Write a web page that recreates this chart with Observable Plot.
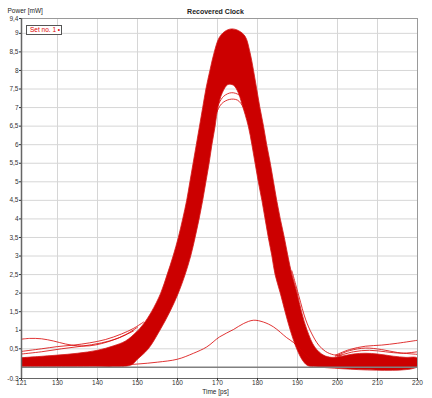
<!DOCTYPE html>
<html><head><meta charset="utf-8">
<script src="https://cdn.jsdelivr.net/npm/d3@7"></script>
<script src="https://cdn.jsdelivr.net/npm/@observablehq/plot@0.6"></script>
<style>
body{margin:0;background:#fff;}
#wrap{position:relative;width:432px;height:398px;font-family:"Liberation Sans",Arial,sans-serif;}
#legend{position:absolute;left:26px;top:25px;width:36px;height:10px;border:1px solid #555;background:#fff;color:#e00000;font-size:6.5px;line-height:8px;padding-left:3px;box-sizing:border-box;white-space:nowrap;font-family:"Liberation Sans",Arial,sans-serif;}
</style></head><body><div id="wrap"><div id="legend">Set no. 1 &#8226;</div></div>
<script>
// ---- ticks / labels ----
const xTicks = [121,130,140,150,160,170,180,190,200,210,220];
const xGrid = [130,140,150,160,170,180,190,200,210];
const yTicks = [-0.3,0.5,1,1.5,2,2.5,3,3.5,4,4.5,5,5.5,6,6.5,7,7.5,8,8.5,9,9.4];
const yTickLabels = ["-0.3","0,5","1","1,5","2","2,5","3","3,5","4","4,5","5","5,5","6","6,5","7","7,5","8","8,5","9","9,4"];
const yGrid = [0.5,1,1.5,2,2.5,3,3.5,4,4.5,5,5.5,6,6.5,7,7.5,8,8.5,9];
const titleText = ["Recovered Clock"];
const yLabel = ["Power [mW]"];
const xLabel = ["Time [ps]"];
const zeroLine = [0];

// ---- dense band of traces: outer (upper) envelope ----
const upperT = [121,125,130,135,140,144,147,149.7,151.5,153.5,155.8,157.4,158.9,160.2,161.3,162.3,163.1,163.9,164.7,165.5,166.3,167.1,168.1,169.2,170.4,171.8,173.5,175.3,176.9,178.1,179,179.8,180.6,181.5,182.3,183.2,184,184.8,185.7,186.7,187.6,188.6,189.9,191,192.4,194.3,196.5,198.5,201,204,207,210,214,217,220];
const upperV = [0.26,0.29,0.33,0.38,0.46,0.58,0.71,0.95,1.17,1.5,2.0,2.5,3.0,3.5,4.0,4.5,5.0,5.5,6.0,6.5,7.0,7.5,8.0,8.5,8.88,9.05,9.12,9.07,8.92,8.5,8.0,7.5,7.0,6.5,6.0,5.5,5.0,4.5,4.0,3.5,3.0,2.5,2.0,1.5,1.0,0.55,0.33,0.27,0.3,0.36,0.38,0.36,0.3,0.27,0.25];
// ---- dense band: inner (lower) envelope ----
const lowerT = [121,135,146,148.5,150,152.7,155.6,158.1,160.2,161.9,163.3,164.4,165.4,166.3,167.1,167.9,168.6,169.4,170.1,171.2,172.6,174,175.2,176.1,177.7,178.6,179.4,180.2,181.1,181.9,182.7,183.6,184.4,185.7,186.9,188.2,189.8,191.2,192.5,194,220];
const lowerV = [0.02,0.02,0.02,0.07,0.22,0.5,1.0,1.5,2.0,2.5,3.0,3.5,4.0,4.5,5.0,5.5,6.0,6.5,7.0,7.4,7.62,7.6,7.4,7.1,6.5,6.0,5.5,5.0,4.5,4.0,3.5,3.0,2.5,2.0,1.5,1.0,0.5,0.2,0.05,0.02,0.02];

// ---- individual visible traces ----
const lowPeak1 = [[169.5,6.8],[171,7.1],[173,7.22],[175,7.2],[176.5,7.0],[177.6,6.7]];
const lowPeak2 = [[169.8,7.0],[171.5,7.3],[173.5,7.4],[175.5,7.33],[176.8,7.1]];
const smallPulse = [[121,0.04],[135,0.05],[145,0.06],[150,0.09],[155,0.14],[160,0.22],[164,0.38],[167.3,0.55],[170.5,0.82],[174,1.02],[176.5,1.18],[179,1.27],[181.5,1.22],[184,1.09],[187.3,0.8],[189,0.67],[191,0.45],[193,0.25]];
const outlierLeft = [[121,0.76],[123,0.78],[126,0.77],[129,0.71],[132,0.63],[135,0.58],[138,0.58],[141,0.64],[144,0.74],[147,0.88],[150,1.08]];
const fringeLeft1 = [[121,0.43],[126,0.5],[130,0.56],[134,0.6],[138,0.66],[142,0.75],[146,0.9],[149,1.05],[151.5,1.22]];
const fringeLeft2 = [[121,0.36],[126,0.42],[131,0.5],[136,0.57],[141,0.66],[145,0.78],[149,0.98]];
const fringeRight = [[188.6,2.6],[190.4,1.9],[192,1.3],[193.6,0.9],[195.3,0.6],[197,0.43],[199,0.34],[201,0.33]];
const bumpRight1 = [[199.5,0.33],[203,0.48],[207,0.57],[211,0.6],[215,0.65],[220,0.73]];
const bumpRight2 = [[199.5,0.3],[203,0.45],[207,0.52],[211,0.48],[215,0.4],[220,0.35]];
const bumpRight3 = [[200,0.3],[204,0.42],[208,0.46],[212,0.42],[216,0.38],[220,0.42]];

const band = upperT.map((t,i)=>[t,upperV[i]]).concat(lowerT.map((t,i)=>[t,lowerV[i]]).reverse());
const traces = [lowPeak1,lowPeak2,smallPulse,outlierLeft,fringeLeft1,fringeLeft2,fringeRight,bumpRight1,bumpRight2,bumpRight3];

const yLab = new Map(yTicks.map((v,i)=>[v,yTickLabels[i]]));
const red = "#cc0000";
const px = {x: d=>d[0], y: d=>d[1]};

const chart = Plot.plot({
  width: 432, height: 398,
  marginLeft: 21, marginRight: 15, marginTop: 18, marginBottom: 20,
  style: {fontFamily: '"Liberation Sans", Arial, sans-serif', fontSize: "6.5px", color: "#333", background: "#fff"},
  x: {domain: [121, 220]},
  y: {domain: [-0.3, 9.4]},
  marks: [
    Plot.gridY(yGrid, {stroke: "#d6d6d6", strokeOpacity: 1}),
    Plot.gridX(xGrid, {stroke: "#d6d6d6", strokeOpacity: 1}),
    Plot.line(band, {...px, fill: red, stroke: "#d41a1a", strokeWidth: 0.8, curve: "catmull-rom", clip: true}),
    ...traces.map(tr => Plot.line(tr, {...px, stroke: "#d80000", strokeWidth: 0.8, curve: "catmull-rom", clip: true})),
    Plot.ruleY(zeroLine, {stroke: "#808080", strokeWidth: 1.5}),
    Plot.frame({stroke: "#9a9a9a"}),
    Plot.ruleX([xTicks[0]], {stroke: "#666", strokeWidth: 1.5}),
    Plot.ruleY([yTicks[0]], {stroke: "#666", strokeWidth: 1.2}),
    Plot.axisY({ticks: yTicks, tickFormat: d => yLab.get(d), tickSize: 2, tickPadding: 1, fontSize: 6.5, label: null}),
    Plot.axisX({ticks: xTicks, tickFormat: d => String(d), tickSize: 2, tickPadding: 0, fontSize: 6.5, label: null}),
    Plot.text(titleText, {text: d => d, frameAnchor: "top", dx: -4, dy: -9, fontWeight: "bold", fontSize: 7, fill: "#222"}),
    Plot.text(yLabel, {text: d => d, frameAnchor: "top-left", textAnchor: "start", dx: -14, dy: -10, fontSize: 6.5, fill: "#222"}),
    Plot.text(xLabel, {text: d => d, frameAnchor: "bottom", dx: -4, dy: 15, fontSize: 6.5, fill: "#222"})
  ]
});
document.getElementById("wrap").prepend(chart);
</script></body></html>
